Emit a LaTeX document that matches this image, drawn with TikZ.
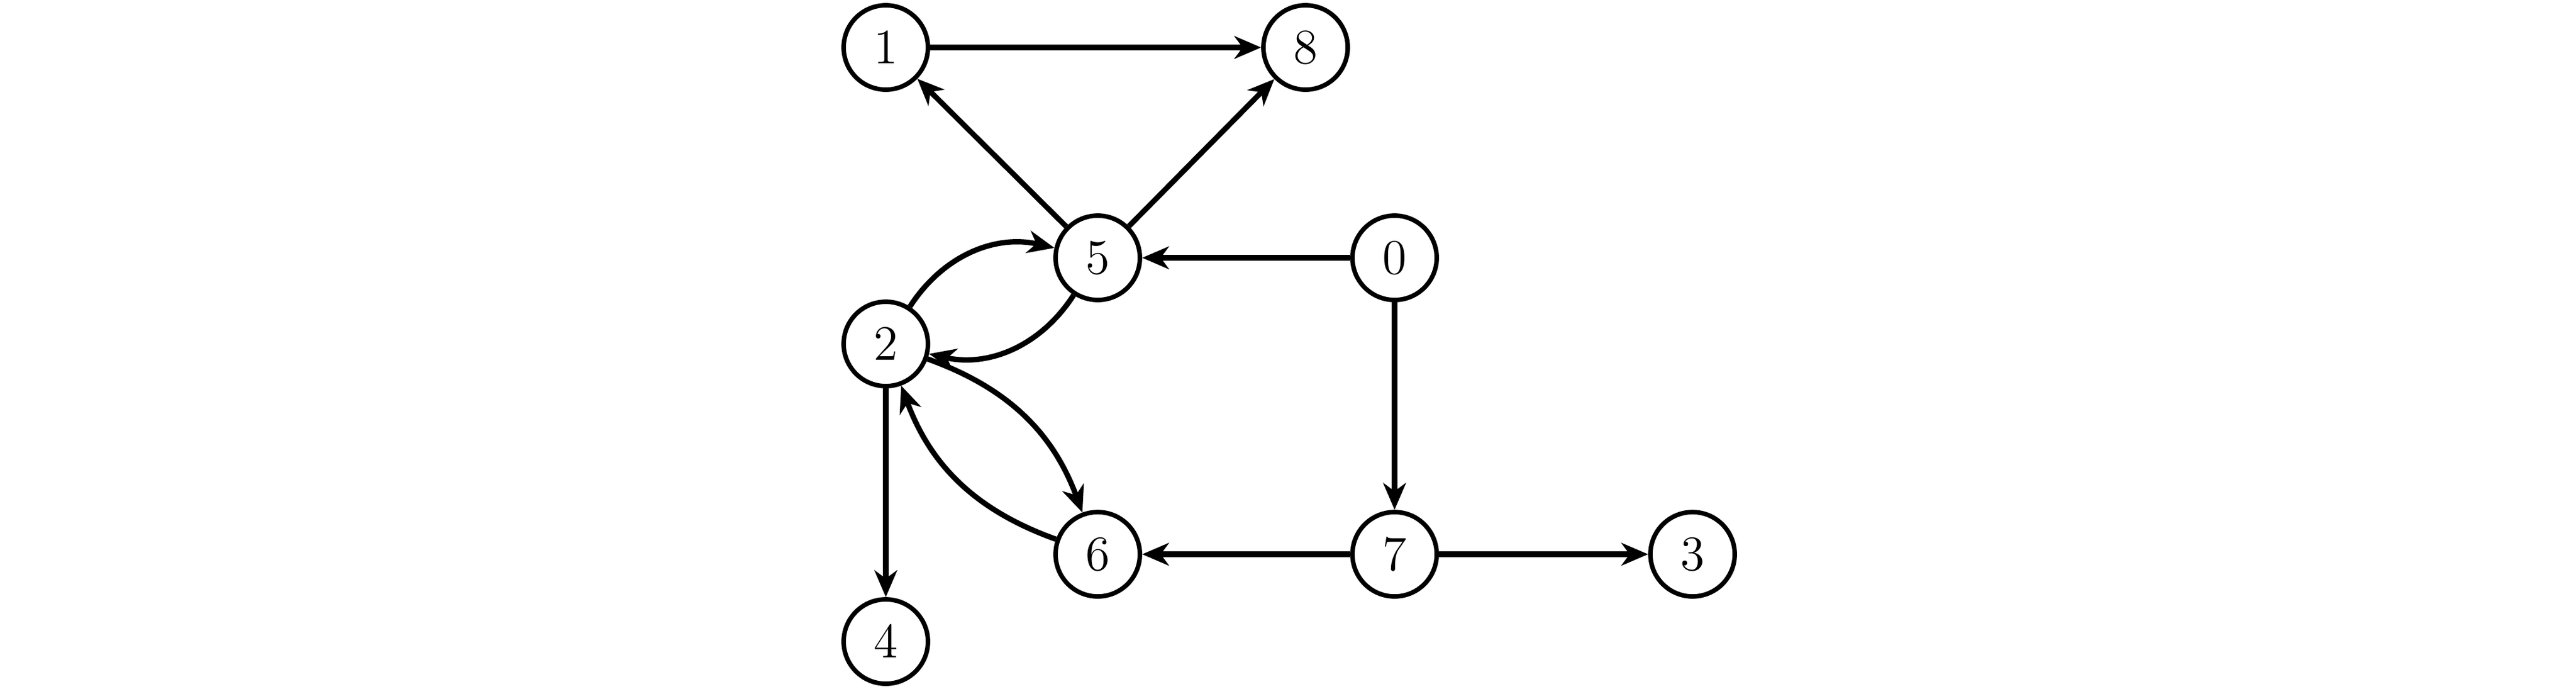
\documentclass[tikz,border=0pt]{standalone}
\usetikzlibrary{arrows.meta}
\begin{document}
\begin{tikzpicture}[
  vtx/.style={circle, draw, line width=1.1pt, minimum size=0.72cm, inner sep=0pt, font=\fontsize{12}{14}\selectfont},
  edge/.style={line width=1.3pt, -{Stealth[length=6.5pt,width=5.5pt,inset=2pt]}}
]
\useasboundingbox (0,0) rectangle (22,5.875);
\node[vtx] (n1) at (7.565,5.47) {$1$};
\node[vtx] (n8) at (11.15,5.47) {$8$};
\node[vtx] (n5) at (9.375,3.675) {$5$};
\node[vtx] (n0) at (11.91,3.675) {$0$};
\node[vtx] (n2) at (7.565,2.94) {$2$};
\node[vtx] (n6) at (9.375,1.145) {$6$};
\node[vtx] (n7) at (11.91,1.145) {$7$};
\node[vtx] (n3) at (14.455,1.145) {$3$};
\node[vtx] (n4) at (7.565,0.40) {$4$};
\draw[edge] (n1) -- (n8);
\draw[edge] (n5) -- (n1);
\draw[edge] (n5) -- (n8);
\draw[edge] (n0) -- (n5);
\draw[edge] (n2) to[bend left=35] (n5);
\draw[edge] (n5) to[bend left=35] (n2);
\draw[edge] (n2) to[bend left=25] (n6);
\draw[edge] (n6) to[bend left=25] (n2);
\draw[edge] (n2) -- (n4);
\draw[edge] (n0) -- (n7);
\draw[edge] (n7) -- (n6);
\draw[edge] (n7) -- (n3);
\end{tikzpicture}
\end{document}
